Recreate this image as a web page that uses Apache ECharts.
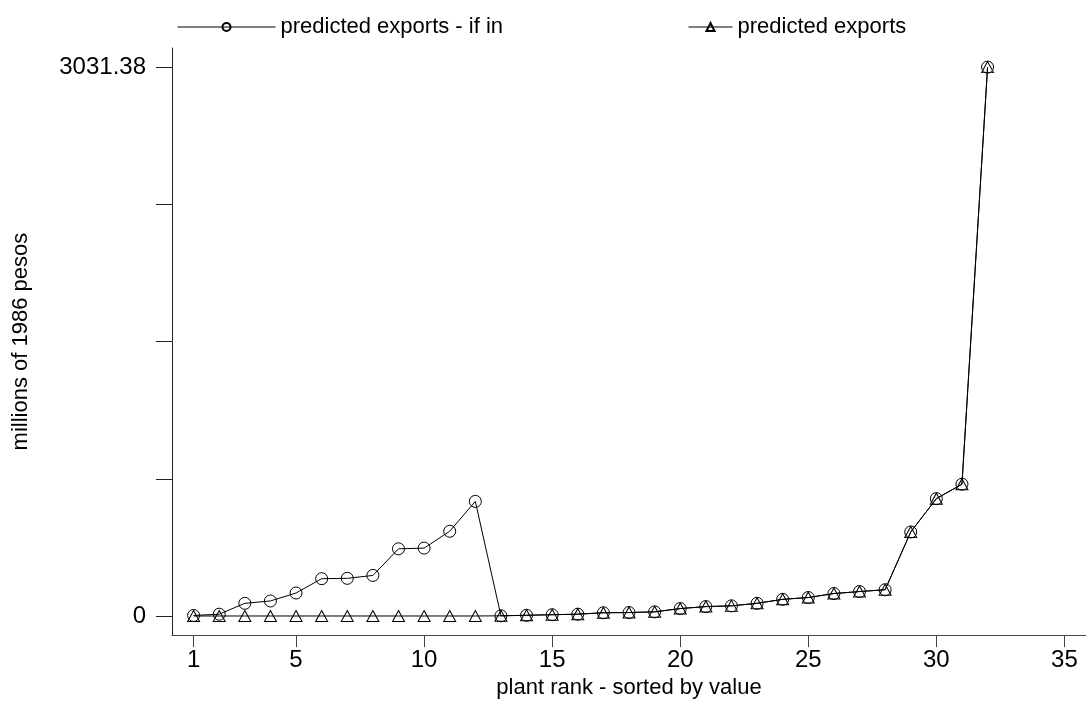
<!DOCTYPE html>
<html>
<head>
<meta charset="utf-8">
<script src="https://cdn.jsdelivr.net/npm/echarts@6/dist/echarts.min.js"></script>
<style>
html,body{margin:0;padding:0;background:#fff;}
#chart{width:1086px;height:704px;}
</style>
</head>
<body>
<div id="chart"></div>
<script>
// Plant ranks (x)
const ranks = [1,2,3,4,5,6,7,8,9,10,11,12,13,14,15,16,17,18,19,20,21,22,23,24,25,26,27,28,29,30,31,32];
// predicted exports - if in (circles)
const exportsIfIn = [3,10,70,83,127,206,208,224,371,375,468,633,1,4,7,10,18,19,23,41,52,56,70,92,102,124,135,145,464,648,728,3031.38];
// predicted exports (triangles)
const exportsPred = [0,0,0,0,0,0,0,0,0,0,0,0,1,4,7,10,18,19,23,41,52,56,70,92,102,124,135,145,464,648,728,3031.38];
// tick values / labels
const xTickValues = [1,5,10,15,20,25,30,35];
const yTickValues = [0,757.845,1515.69,2273.535,3031.38];
const yLabelValues = [0,3031.38];

const FONT = '"Liberation Sans", Arial, Helvetica, sans-serif';
const pairs = (vals) => ranks.map((r,i)=>[r, vals[i]]);

const chart = echarts.init(document.getElementById('chart'), null, {renderer:'canvas'});
chart.setOption({
  animation:false,
  backgroundColor:'#fff',
  textStyle:{fontFamily:FONT,color:'#000'},
  legend:[
    {
      data:['predicted exports - if in'],
      left:172, top:11,
      itemWidth:98, itemHeight:10,
      lineStyle:{width:1,color:'#000'},
      textStyle:{fontFamily:FONT,fontSize:22,color:'#000'}
    },
    {
      data:['predicted exports'],
      left:683, top:11,
      itemWidth:44, itemHeight:10,
      lineStyle:{width:1,color:'#000'},
      textStyle:{fontFamily:FONT,fontSize:22,color:'#000'}
    }
  ],
  grid:{left:172, top:48, right:0, bottom:66, containLabel:false},
  xAxis:{
    type:'value',
    min:0.157, max:35.843,
    name:'plant rank - sorted by value',
    nameLocation:'middle', nameGap:39,
    nameTextStyle:{fontFamily:FONT,fontSize:22,color:'#000'},
    splitLine:{show:false},
    axisLine:{show:true,onZero:false,lineStyle:{color:'#444',width:1}},
    axisTick:{show:true,length:12,customValues:xTickValues,lineStyle:{color:'#444'}},
    axisLabel:{customValues:xTickValues,margin:13,fontFamily:FONT,fontSize:24,color:'#000',showMinLabel:true,showMaxLabel:true}
  },
  yAxis:{
    type:'value',
    min:-105.5, max:3136.9,
    name:'millions of 1986 pesos',
    nameLocation:'middle', nameGap:140,
    nameTextStyle:{fontFamily:FONT,fontSize:22,color:'#000'},
    splitLine:{show:false},
    axisLine:{show:true,onZero:false,lineStyle:{color:'#222',width:1}},
    axisTick:{show:true,length:16,customValues:yTickValues,lineStyle:{color:'#222'}},
    axisLabel:{customValues:yLabelValues,margin:26,fontFamily:FONT,fontSize:24,color:'#000',
      formatter:(v)=>String(v)}
  },
  series:[
    {
      name:'predicted exports - if in',
      type:'line',
      data:pairs(exportsIfIn),
      symbol:'circle', symbolSize:12,
      showAllSymbol:true,
      lineStyle:{color:'#000',width:1},
      itemStyle:{color:'rgba(0,0,0,0)',borderColor:'#000',borderWidth:1},
      z:3
    },
    {
      name:'predicted exports',
      type:'line',
      data:pairs(exportsPred),
      symbol:'triangle', symbolSize:[12,11],
      showAllSymbol:true,
      lineStyle:{color:'#000',width:1},
      itemStyle:{color:'rgba(0,0,0,0)',borderColor:'#000',borderWidth:1},
      z:2
    }
  ]
});
</script>
</body>
</html>
